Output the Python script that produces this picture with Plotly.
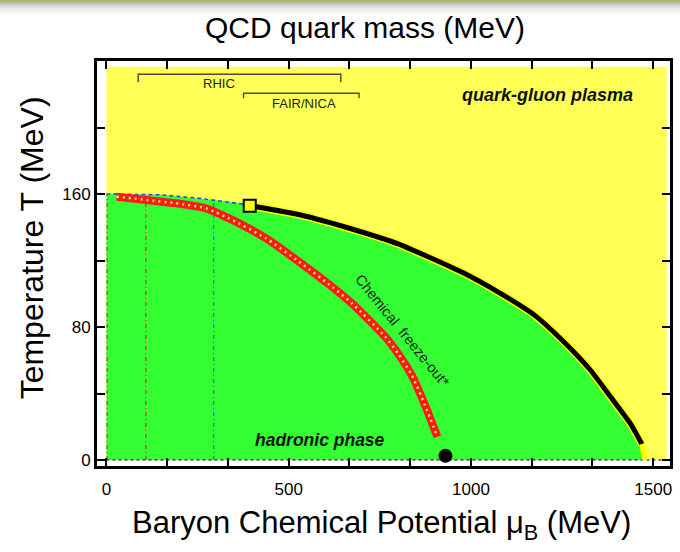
import plotly.graph_objects as go

# QCD phase diagram: baryon chemical potential mu_B (MeV) vs temperature T (MeV)

# extent of the shaded region
region_mu = [0, 1537, 1537, 0]
region_T = [0, 0, 236.5, 236.5]

# crossover (dashed) from mu_B = 0 to the critical point
crossover_mu = [0, 150, 255, 330, 373, 393]
crossover_T = [160, 159.5, 157.4, 155.5, 154, 153]

# first-order transition line starting at the critical point
transition_mu = [393, 530, 680, 800, 890, 980, 1075, 1175, 1255, 1328, 1383, 1437, 1469]
transition_T = [153, 147.5, 138.5, 130, 121.5, 112.5, 101, 87, 71, 54, 38, 22, 9.5]
transition_tail_mu = [1469, 1476]
transition_tail_T = [9.5, 0]

# chemical freeze-out curve
freezeout_mu = [28, 110, 191, 273, 345, 437, 528, 619, 673, 764.5, 800.8, 837, 873.7, 908]
freezeout_T = [158.4, 156.4, 154.4, 151.4, 144.4, 133.4, 119.3, 104.2, 94.3, 74.2, 63.8, 51.2, 33.1, 13.9]

# critical point and nuclear matter
critical_point = (393, 153)
nuclear_matter = (930, 2.5)

# beam-energy scan lines (mu_B, top T)
scan_red_mu = [2, 108]
scan_red_top = [160, 156]
scan_blue_mu = [294]
scan_blue_top = [156]

# experiment coverage in mu_B
rhic_range = [87, 643]
fair_range = [376, 693]

x_label_vals = [0, 500, 1000, 1500]
x_label_text = ["0", "500", "1000", "1500"]
x_minor_vals = [166.67, 333.33, 666.67, 833.33, 1166.67, 1333.33]
y_label_vals = [0, 80, 160]
y_label_text = ["0", "80", "160"]
y_minor_vals = [40, 120, 200]

FONT = "Liberation Sans, Arial, Helvetica, sans-serif"
YELLOW = "#FFFF55"
GREEN = "#33FF33"

fig = go.Figure()

# quark-gluon plasma background
fig.add_trace(go.Scatter(
    x=region_mu + [region_mu[0]], y=region_T + [region_T[0]],
    mode="lines", fill="toself", line=dict(width=0), fillcolor=YELLOW,
    hoverinfo="skip", showlegend=False))

# hadronic phase
green_mu = [0] + crossover_mu + transition_mu[1:] + [transition_tail_mu[-1], 0]
green_T = [0] + crossover_T + transition_T[1:] + [transition_tail_T[-1], 0]
fig.add_trace(go.Scatter(
    x=green_mu, y=green_T, mode="lines", fill="toself", line=dict(width=0),
    fillcolor=GREEN, hoverinfo="skip", showlegend=False))

# T = 0 baseline
fig.add_trace(go.Scatter(
    x=[0, region_mu[1]], y=[0, 0], mode="lines",
    line=dict(color="black", width=1, dash="3px,3px"),
    hoverinfo="skip", showlegend=False))

# scan lines
for mu, top in zip(scan_red_mu, scan_red_top):
    fig.add_trace(go.Scatter(
        x=[mu, mu], y=[0, top], mode="lines",
        line=dict(color="#E03A1E", width=1.3, dash="4px,3px,1px,3px"),
        hoverinfo="skip", showlegend=False))
for mu, top in zip(scan_blue_mu, scan_blue_top):
    fig.add_trace(go.Scatter(
        x=[mu, mu], y=[0, top], mode="lines",
        line=dict(color="#2F6FE0", width=1.3, dash="4px,3px,1px,3px"),
        hoverinfo="skip", showlegend=False))

# crossover
fig.add_trace(go.Scatter(
    x=crossover_mu, y=crossover_T, mode="lines",
    line=dict(color="#2A4CF0", width=1.6, dash="4px,3px"),
    hoverinfo="skip", showlegend=False))

# freeze-out curve: red band with yellow dots
fig.add_trace(go.Scatter(
    x=freezeout_mu, y=freezeout_T, mode="lines",
    line=dict(color="#FF1A1A", width=8, shape="spline", smoothing=0.6),
    hoverinfo="skip", showlegend=False))
fig.add_trace(go.Scatter(
    x=freezeout_mu, y=freezeout_T, mode="lines",
    line=dict(color="#FFF040", width=2.5, dash="2px,4px", shape="spline", smoothing=0.6),
    hoverinfo="skip", showlegend=False))

# first-order line
fig.add_trace(go.Scatter(
    x=transition_mu, y=transition_T, mode="lines",
    line=dict(color="#FFFF00", width=8, shape="spline", smoothing=0.5),
    hoverinfo="skip", showlegend=False))
fig.add_trace(go.Scatter(
    x=transition_mu, y=transition_T, mode="lines",
    line=dict(color="black", width=5, shape="spline", smoothing=0.5),
    hoverinfo="skip", showlegend=False))
fig.add_trace(go.Scatter(
    x=transition_tail_mu, y=transition_tail_T, mode="lines",
    line=dict(color="#FFFF00", width=5),
    hoverinfo="skip", showlegend=False))

# critical point
fig.add_trace(go.Scatter(
    x=[critical_point[0]], y=[critical_point[1]], mode="markers",
    marker=dict(symbol="square", size=12, color="#FFFF00",
                line=dict(color="black", width=2)),
    hoverinfo="skip", showlegend=False))

# nuclear matter
fig.add_trace(go.Scatter(
    x=[nuclear_matter[0]], y=[nuclear_matter[1]], mode="markers",
    marker=dict(symbol="circle", size=14, color="black"),
    hoverinfo="skip", showlegend=False))

# experiment brackets
bracket_color = "#4A4A40"
fig.add_trace(go.Scatter(
    x=[rhic_range[0], rhic_range[0], rhic_range[1], rhic_range[1]],
    y=[227.2, 232, 232, 227.2], mode="lines",
    line=dict(color=bracket_color, width=1.4),
    hoverinfo="skip", showlegend=False))
fig.add_trace(go.Scatter(
    x=[fair_range[0], fair_range[0], fair_range[1], fair_range[1]],
    y=[217.6, 220.6, 220.6, 217.6], mode="lines",
    line=dict(color=bracket_color, width=1.4),
    hoverinfo="skip", showlegend=False))

annotations = [
    dict(x=310, y=226.6, text="RHIC", font=dict(size=13, color="#222")),
    dict(x=542, y=214.5, text="FAIR/NICA", font=dict(size=13, color="#222")),
    dict(x=1210, y=219.5, text="<b><i>quark-gluon plasma</i></b>",
         font=dict(size=18, color="#111")),
    dict(x=585, y=12, text="<b><i>hadronic phase</i></b>",
         font=dict(size=17.5, color="#111")),
    dict(x=790, y=73.8, text="Chemical  freeze-out*", textangle=51,
         xshift=8, yshift=6, font=dict(size=14.5, color="#222")),
]
for a in annotations:
    a.update(xref="x", yref="y", showarrow=False, xanchor="center", yanchor="middle")
    a["font"]["family"] = FONT

# axis titles
annotations.append(dict(
    xref="paper", yref="paper", x=0.4965, y=-0.146, showarrow=False,
    xanchor="center", yanchor="middle",
    text="Baryon Chemical Potential \u03bc<sub>B</sub> (MeV)",
    font=dict(family=FONT, size=31, color="black")))
annotations.append(dict(
    xref="paper", yref="paper", x=-0.113, y=0.538, showarrow=False,
    xanchor="center", yanchor="middle", textangle=-90,
    text="Temperature T (MeV)",
    font=dict(family=FONT, size=32, color="black")))

# slide header rule with soft shadow
shapes = [dict(type="rect", xref="paper", yref="paper", x0=-0.3, x1=1.3,
               y0=1.1506 - 0.0049, y1=1.16, line=dict(width=0), fillcolor="#A9BC4E")]
shade = ["#BDBDBD", "#CFCFCF", "#DEDEDE", "#EAEAEA", "#F3F3F3", "#FAFAFA"]
for i, c in enumerate(shade):
    top = 1.1506 - 0.0049 - i * 0.0049
    shapes.append(dict(type="rect", xref="paper", yref="paper", x0=-0.3, x1=1.3,
                       y0=top - 0.0049, y1=top, line=dict(width=0), fillcolor=c))

axis_common = dict(
    ticks="inside", ticklen=8, tickwidth=1.5, tickcolor="black",
    showline=True, linewidth=3, linecolor="black", mirror="ticks",
    showgrid=False, zeroline=False,
    tickfont=dict(size=17, family=FONT, color="black"),
)

fig.update_layout(
    width=680, height=552,
    margin=dict(l=97, r=7, t=61, b=86),
    paper_bgcolor="white", plot_bgcolor="white",
    font=dict(family=FONT, color="black"),
    title=dict(text="QCD quark mass (MeV)", x=365 / 680, xanchor="center",
               y=1 - 27 / 552, yanchor="middle", xref="container", yref="container",
               font=dict(family=FONT, size=30, color="black")),
    annotations=annotations,
    shapes=shapes,
    xaxis=dict(range=[-26, 1546], tickvals=x_label_vals, ticktext=x_label_text,
               ticklabelstandoff=6,
               minor=dict(tickvals=x_minor_vals, ticks="inside", ticklen=8,
                          tickwidth=1.5, tickcolor="black", showgrid=False),
               **axis_common),
    yaxis=dict(range=[-3.6, 240], tickvals=y_label_vals, ticktext=y_label_text,
               minor=dict(tickvals=y_minor_vals, ticks="inside", ticklen=8,
                          tickwidth=1.5, tickcolor="black", showgrid=False),
               **axis_common),
)

fig.write_html("out.html")
